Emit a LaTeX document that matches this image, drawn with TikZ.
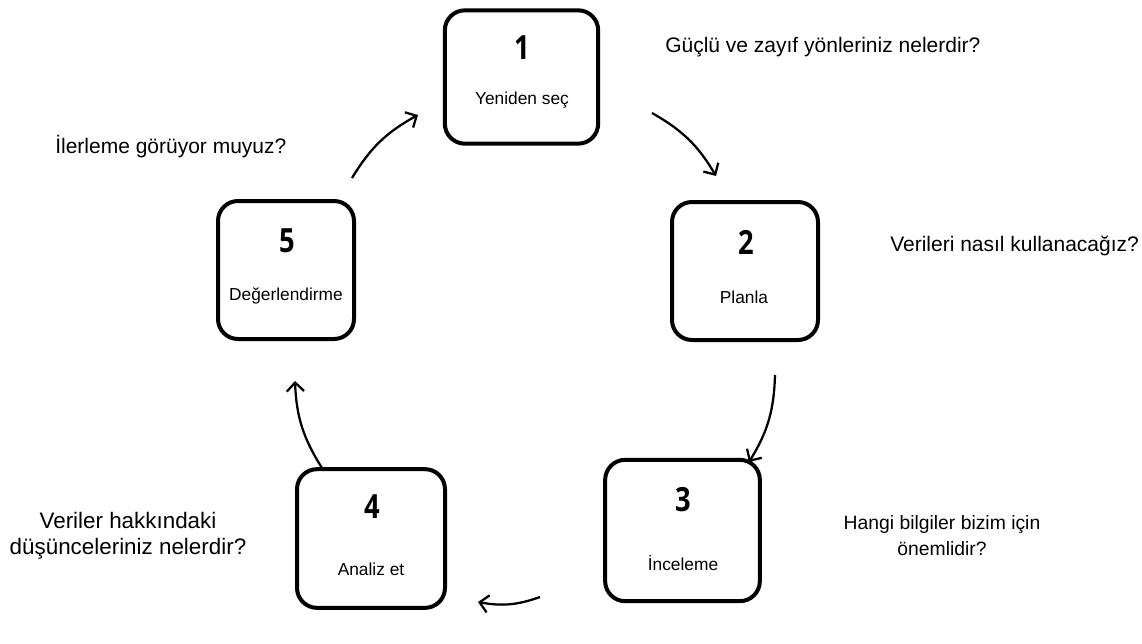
\documentclass[tikz,border=0pt]{standalone}
\usepackage{fontspec}
\setmainfont{Liberation Sans}
\newfontfamily\numfont{Open Sans}
\usetikzlibrary{arrows.meta}
\newcommand{\stepnum}[1]{\scalebox{0.82}[1]{#1}}
\begin{document}
\begin{tikzpicture}[x=0.75pt,y=-0.75pt,
  stepbox/.style={draw, line width=3pt, rounded corners=15pt, inner sep=0pt},
  numtxt/.style={font=\numfont\bfseries\fontsize{25}{30}\selectfont, inner sep=0pt},
  boxtxt/.style={font=\fontsize{13}{15}\selectfont, inner sep=0pt},
  qtxt/.style={font=\fontsize{15.75}{19.5}\selectfont, inner sep=0pt, align=center},
  arr/.style={-{Straight Barb[length=6.5pt,width=13pt]}, line width=1.7pt}]
\useasboundingbox (0,0) rectangle (1142,643);
% boxes
\node[stepbox, minimum width=115pt, minimum height=100pt] (b1) at (521.5,77) {};
\node[stepbox, minimum width=109.5pt, minimum height=103.5pt] (b2) at (745,271) {};
\node[stepbox, minimum width=116pt, minimum height=106pt] (b3) at (682.5,530.5) {};
\node[stepbox, minimum width=111pt, minimum height=104pt] (b4) at (371,538.5) {};
\node[stepbox, minimum width=102pt, minimum height=103.5pt] (b5) at (286,270) {};
% numbers
\node[numtxt] (n1) at (522,48) {\stepnum{1}};
\node[numtxt] (n2) at (746,242) {\stepnum{2}};
\node[numtxt] (n3) at (683,500) {\stepnum{3}};
\node[numtxt] (n4) at (372,507) {\stepnum{4}};
\node[numtxt] (n5) at (287,241) {\stepnum{5}};
% labels
\node[boxtxt] (l1) at (522,100) {Yeniden seç};
\node[boxtxt] (l2) at (744,297) {Planla};
\node[boxtxt] (l3) at (683,563) {İnceleme};
\node[boxtxt] (l4) at (371,569) {Analiz et};
\node[boxtxt] (l5) at (286,296) {Değerlendirme};
% questions
\node[qtxt, anchor=west] (q1) at (665,47) {Güçlü ve zayıf yönleriniz nelerdir?};
\node[qtxt, anchor=west] (q2) at (890,246) {Verileri nasıl kullanacağız?};
\node[qtxt, font=\fontsize{14.5}{19.5}\selectfont] (q3) at (942,536) {Hangi bilgiler bizim için\\önemlidir?};
\node[qtxt, font=\fontsize{16.8}{19.5}\selectfont] (q4) at (128,536) {Veriler hakkındaki\\düşünceleriniz nelerdir?};
\node[qtxt, anchor=west] (q5) at (55,147) {İlerleme görüyor muyuz?};
% arrow end points
\coordinate (a1s) at (652,113); \coordinate (a1e) at (716,176);
\coordinate (a2s) at (775,375); \coordinate (a2e) at (749,462);
\coordinate (a3s) at (540,597); \coordinate (a3e) at (478,602);
\coordinate (a4s) at (322,468); \coordinate (a4e) at (295,381);
\coordinate (a5s) at (352,178); \coordinate (a5e) at (418,115);
\draw[arr] (a1s) to[bend left=15] (a1e);
\draw[arr] (a2s) to[bend left=15] (a2e);
\draw[arr] (a3s) to[bend left=15] (a3e);
\draw[arr] (a4s) to[bend left=15] (a4e);
\draw[arr] (a5s) to[bend left=15] (a5e);
\end{tikzpicture}
\end{document}
